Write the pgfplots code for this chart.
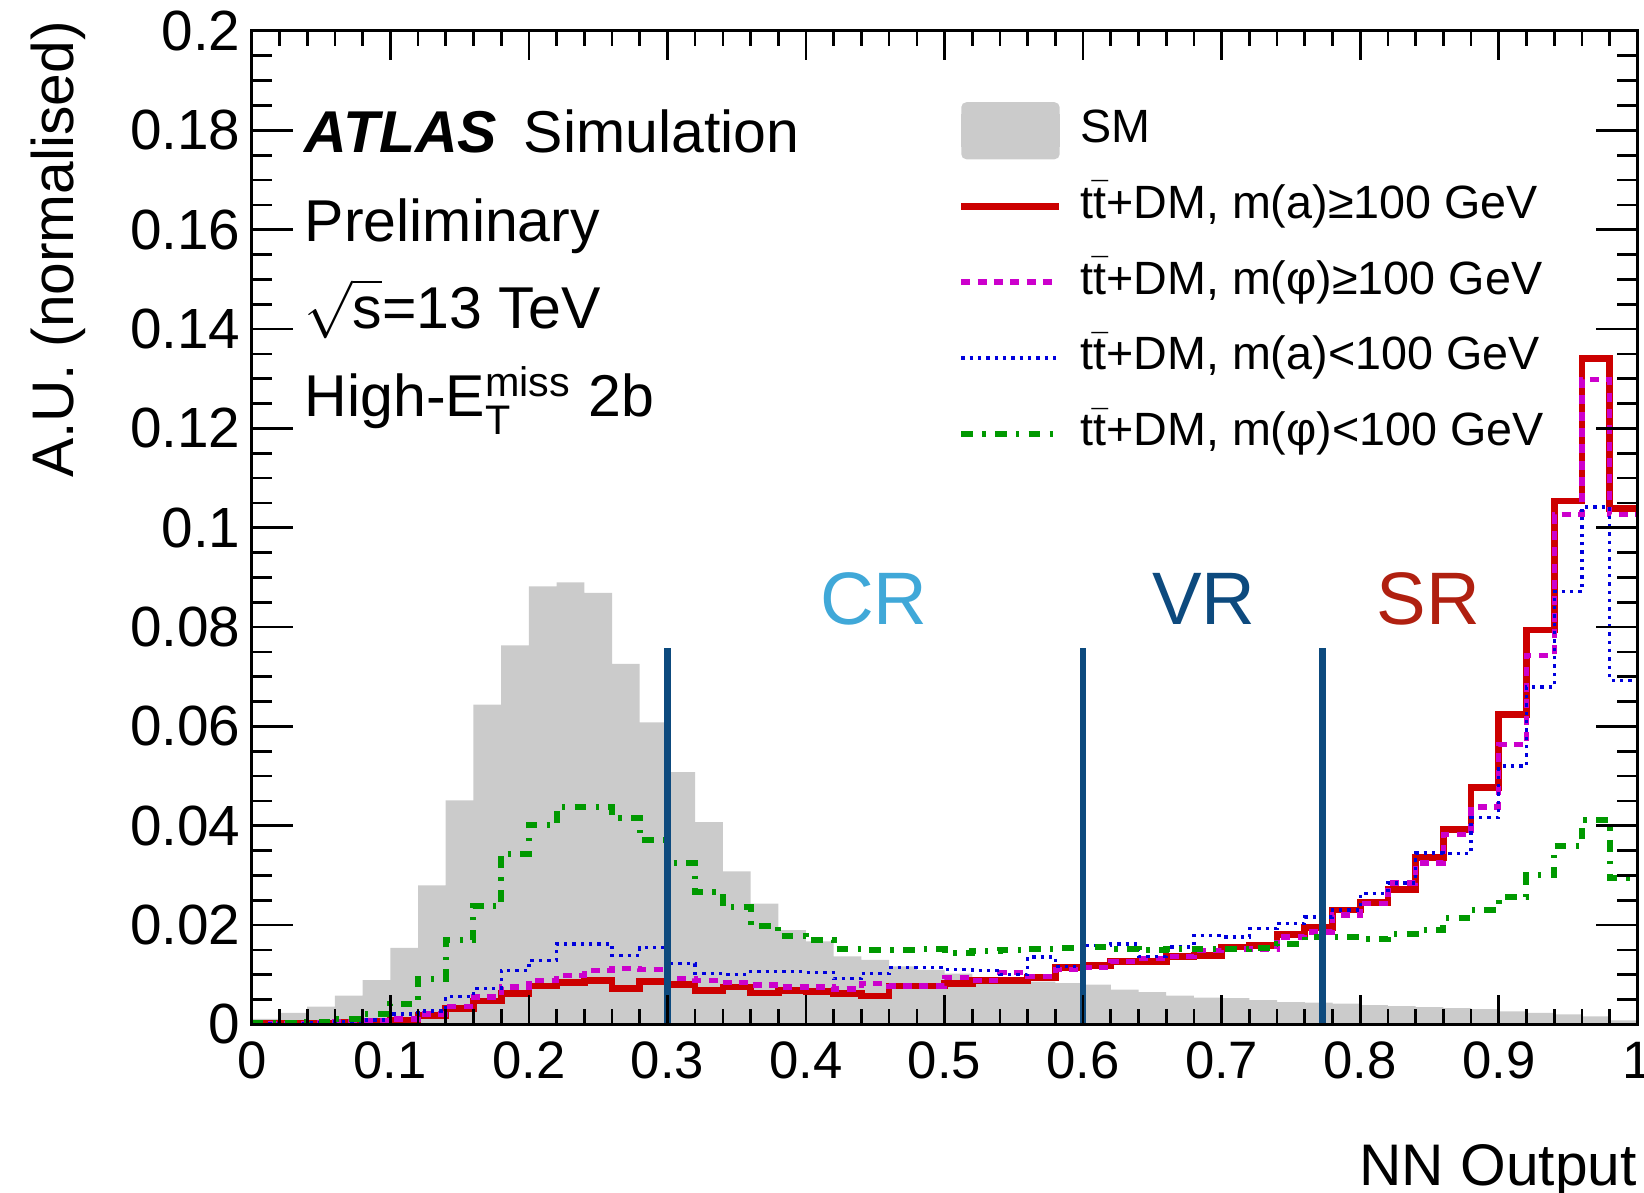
\documentclass[border=0pt]{standalone}
\usepackage{fontspec}
\setmainfont{Liberation Sans}
\usepackage{amsmath}
\usepackage{pgfplots}
\pgfplotsset{compat=1.18}
\usepackage{pgfplotstable}

\definecolor{smgrey}{RGB}{203,203,203}
\definecolor{hred}{RGB}{204,0,0}
\definecolor{hmag}{RGB}{204,0,204}
\definecolor{hblue}{RGB}{0,0,221}
\definecolor{hgreen}{RGB}{0,153,0}
\definecolor{cutblue}{RGB}{13,74,126}
\definecolor{crblue}{RGB}{64,168,216}
\definecolor{srred}{RGB}{176,32,16}

% bin left edges (width 0.02); last row repeats the last bin to close the step
\pgfplotstableread{
x     sm      red     mag     blue    green
0.00  0.0011  0.0003  0.0002  0.0002  0.0003
0.02  0.0023  0.0003  0.0002  0.0002  0.0003
0.04  0.0036  0.0003  0.0003  0.0003  0.0004
0.06  0.0058  0.0005  0.0005  0.0005  0.0011
0.08  0.0089  0.0006  0.0007  0.0009  0.0021
0.10  0.0154  0.0008  0.0011  0.0021  0.0042
0.12  0.0280  0.0018  0.0021  0.0027  0.0092
0.14  0.0451  0.0032  0.0036  0.0056  0.0169
0.16  0.0644  0.0047  0.0055  0.0072  0.0238
0.18  0.0763  0.0062  0.0075  0.0109  0.0344
0.20  0.0882  0.0077  0.0089  0.0129  0.0401
0.22  0.0890  0.0085  0.0099  0.0162  0.0438
0.24  0.0869  0.0089  0.0109  0.0162  0.0438
0.26  0.0726  0.0072  0.0112  0.0139  0.0416
0.28  0.0608  0.0087  0.0110  0.0155  0.0371
0.30  0.0508  0.0081  0.0092  0.0122  0.0324
0.32  0.0407  0.0068  0.0089  0.0103  0.0266
0.34  0.0308  0.0075  0.0085  0.0101  0.0236
0.36  0.0243  0.0063  0.0079  0.0106  0.0199
0.38  0.0190  0.0068  0.0075  0.0106  0.0177
0.40  0.0167  0.0066  0.0075  0.0105  0.0169
0.42  0.0137  0.0062  0.0071  0.0092  0.0152
0.44  0.0130  0.0057  0.0083  0.0103  0.0150
0.46  0.0117  0.0077  0.0077  0.0114  0.0150
0.48  0.0110  0.0077  0.0077  0.0114  0.0151
0.50  0.0102  0.0083  0.0095  0.0110  0.0143
0.52  0.0095  0.0088  0.0089  0.0109  0.0147
0.54  0.0090  0.0089  0.0105  0.0101  0.0149
0.56  0.0086  0.0094  0.0097  0.0136  0.0152
0.58  0.0083  0.0114  0.0110  0.0117  0.0153
0.60  0.0080  0.0119  0.0115  0.0159  0.0155
0.62  0.0070  0.0126  0.0126  0.0162  0.0152
0.64  0.0065  0.0127  0.0133  0.0137  0.0149
0.66  0.0058  0.0137  0.0137  0.0156  0.0151
0.68  0.0054  0.0139  0.0149  0.0179  0.0151
0.70  0.0053  0.0156  0.0152  0.0176  0.0151
0.72  0.0049  0.0159  0.0152  0.0193  0.0153
0.74  0.0045  0.0181  0.0176  0.0203  0.0162
0.76  0.0044  0.0195  0.0186  0.0216  0.0176
0.78  0.0042  0.0230  0.0220  0.0230  0.0175
0.80  0.0039  0.0246  0.0243  0.0263  0.0171
0.82  0.0037  0.0271  0.0285  0.0285  0.0183
0.84  0.0035  0.0336  0.0325  0.0345  0.0191
0.86  0.0033  0.0392  0.0382  0.0344  0.0214
0.88  0.0031  0.0477  0.0438  0.0416  0.0230
0.90  0.0026  0.0624  0.0563  0.0520  0.0256
0.92  0.0023  0.0794  0.0743  0.0679  0.0300
0.94  0.0020  0.1054  0.1026  0.0871  0.0360
0.96  0.0016  0.1341  0.1298  0.1042  0.0412
0.98  0.0008  0.1039  0.1027  0.0693  0.0295
1.00  0.0008  0.1039  0.1027  0.0693  0.0295
}\nnout

\begin{document}
\begin{tikzpicture}
\path[use as bounding box] (-75.5pt,-50.4pt) rectangle (417.5pt,307.2pt);
\begin{axis}[
    at={(0pt,0pt)}, anchor=south west,
    scale only axis, width=415.5pt, height=297.9pt,
    xmin=0, xmax=1, ymin=0, ymax=0.2,
    axis on top,
    xtick={0,0.1,0.2,0.3,0.4,0.5,0.6,0.7,0.8,0.9,1},
    ytick={0,0.02,0.04,0.06,0.08,0.1,0.12,0.14,0.16,0.18,0.2},
    minor x tick num=4, minor y tick num=3,
    x tick style={/pgfplots/major tick length=8.8pt, /pgfplots/minor tick length=4.5pt},
    y tick style={/pgfplots/major tick length=12.5pt, /pgfplots/minor tick length=6pt},
    tick style={line width=0.8pt, black},
    axis line style={line width=0.9pt},
    scaled y ticks=false, scaled x ticks=false,
    /pgf/number format/fixed, /pgf/number format/precision=2,
    /pgf/number format/assume math mode=true,
    xticklabel style={font=\fontsize{15.8pt}{18pt}\selectfont, inner ysep=0pt, yshift=-5.1pt},
    yticklabel style={font=\fontsize{17pt}{19pt}\selectfont, inner xsep=0pt, xshift=-3.2pt},
    xlabel={NN Output},
    ylabel={A.U. (normalised)},
    every axis x label/.style={at={(axis description cs:1,0)}, anchor=base east, yshift=-48.3pt,
        inner sep=0pt, font=\fontsize{17.6pt}{20pt}\selectfont},
    every axis y label/.style={at={(axis description cs:-0.129,1.0104)}, rotate=90, anchor=base east,
        inner sep=0pt, font=\fontsize{17.6pt}{20pt}\selectfont},
    legend image code/.code={\draw[#1] (0pt,0pt) -- (29.3pt,0pt);},
    legend cell align=left,
    legend style={at={(axis description cs:0.5092,0.9194)}, anchor=north west,
        draw=none, fill=none, inner sep=0pt,
        font=\fontsize{14pt}{16pt}\selectfont,
        nodes={inner sep=1pt, text height=0.83em, text depth=0.11em},
        row sep=11.3pt,
        /tikz/every odd column/.append style={column sep=4.4pt}},
]
\addplot[const plot, fill=smgrey, draw=none, area legend,
    legend image code/.code={\path (0pt,-5pt) rectangle (29.5pt,5pt);
        \fill[smgrey, rounded corners=1.5pt, overlay] (0pt,-8.55pt) rectangle (29.5pt,8.55pt);}]
    table[x=x, y=sm]{\nnout} \closedcycle;
\addlegendentry{SM}
\addplot[const plot, hred, line width=2.0pt] table[x=x, y=red]{\nnout};
\addlegendentry{t$\bar{\text{t}}$+DM, m(a)≥100 GeV}
\addplot[const plot, hmag, line width=1.6pt, dash pattern=on 2.7pt off 2.2pt] table[x=x, y=mag]{\nnout};
\addlegendentry{t$\bar{\text{t}}$+DM, m(φ)≥100 GeV}
\addplot[const plot, hblue, line width=1.0pt, dash pattern=on 1pt off 1.5pt] table[x=x, y=blue]{\nnout};
\addlegendentry{t$\bar{\text{t}}$+DM, m(a)<100 GeV}
\addplot[const plot, hgreen, line width=1.8pt, dash pattern=on 3.5pt off 2.8pt on 1pt off 2.8pt] table[x=x, y=green]{\nnout};
\addlegendentry{t$\bar{\text{t}}$+DM, m(φ)<100 GeV}

% region boundaries
\addplot[cutblue, line width=2pt, forget plot] coordinates {(0.3,0) (0.3,0.0757)};
\addplot[cutblue, line width=2pt, forget plot] coordinates {(0.6,0) (0.6,0.0757)};
\addplot[cutblue, line width=2pt, forget plot] coordinates {(0.773,0) (0.773,0.0757)};

\node[anchor=base, text=crblue, font=\fontsize{22.3pt}{26pt}\selectfont] at (axis cs:0.449,0.0806) {CR};
\node[anchor=base, text=cutblue, font=\fontsize{22.3pt}{26pt}\selectfont] at (axis cs:0.687,0.0806) {VR};
\node[anchor=base, text=srred, font=\fontsize{22.3pt}{26pt}\selectfont] at (axis cs:0.849,0.0806) {SR};

\node[anchor=base west, inner sep=0pt, font=\fontsize{17.7pt}{20pt}\selectfont] at (axis cs:0.0378,0.1756) {{\bfseries\itshape ATLAS}\hspace{0.45em}Simulation};
\node[anchor=base west, inner sep=0pt, font=\fontsize{17.7pt}{20pt}\selectfont] at (axis cs:0.0378,0.1577) {Preliminary};
\node[anchor=base west, inner sep=0pt, font=\fontsize{17.7pt}{20pt}\selectfont] at (axis cs:0.0378,0.1402) {$\sqrt{\text{s}}$=13 TeV};
\node[anchor=base west, inner sep=0pt, font=\fontsize{17.7pt}{20pt}\selectfont] at (axis cs:0.0378,0.1223) {High-E$^{\text{miss}}_{\text{T}}$ 2b};
\end{axis}
\end{tikzpicture}
\end{document}
